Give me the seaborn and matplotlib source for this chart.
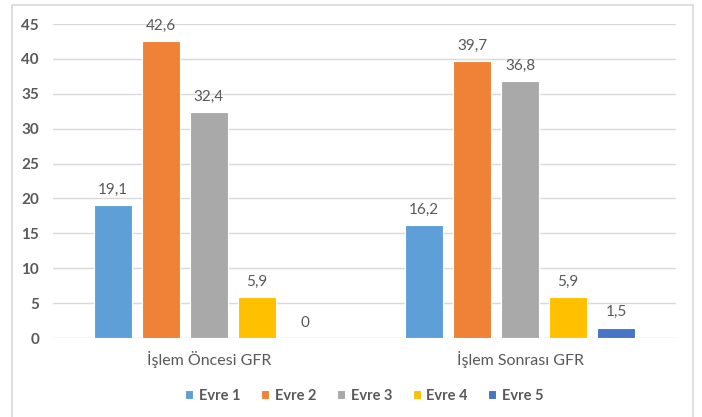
import pandas as pd
import seaborn as sns
import matplotlib.pyplot as plt
from matplotlib.patches import Rectangle

sns.set_theme(style='white')
plt.rcParams['font.family'] = ['Lato', 'DejaVu Sans']

groups = ['İşlem Öncesi GFR', 'İşlem Sonrası GFR']
stages = ['Evre 1', 'Evre 2', 'Evre 3', 'Evre 4', 'Evre 5']
before = [19.1, 42.6, 32.4, 5.9, 0]
after = [16.2, 39.7, 36.8, 5.9, 1.5]
colors = ['#5E9FD8', '#EF8236', '#A9A9A9', '#FFC000', '#4674C6']

df = pd.DataFrame({
    'Grup': [groups[0]] * 5 + [groups[1]] * 5,
    'Evre': stages * 2,
    'Deger': before + after,
})

fig = plt.figure(figsize=(7.02, 4.17), dpi=100)
ax = fig.add_axes([53 / 702, 1 - 338 / 417, 623 / 702, 314 / 417])

sns.barplot(data=df, x='Grup', y='Deger', hue='Evre', order=groups, hue_order=stages,
            palette=colors, width=0.77, gap=0.2, edgecolor='white', linewidth=0.8,
            saturation=1, ax=ax, legend=True)

ax.set_ylim(0, 45)
ax.set_xlim(-0.5, 1.5)
ax.set_yticks(range(0, 50, 5))
ax.yaxis.grid(True, color='#D9D9D9', linewidth=1)
ax.set_axisbelow(True)
for s in ax.spines.values():
    s.set_visible(False)
ax.set_xlabel('')
ax.set_ylabel('')
ax.tick_params(axis='y', length=0, pad=10, labelsize=11, labelcolor='#595959')
ax.tick_params(axis='x', length=0, pad=9, labelsize=11.5, labelcolor='#595959')
for t in ax.get_yticklabels():
    t.set_fontweight('bold')

for cont in ax.containers:
    ax.bar_label(cont, labels=[('%g' % v).replace('.', ',') for v in cont.datavalues],
                 padding=6, fontsize=11, color='#595959')

leg = ax.legend(loc='upper center', bbox_to_anchor=(0.5, -0.12), ncol=5, frameon=False,
                handlelength=0.55, handleheight=0.55, handletextpad=0.4, columnspacing=1.4,
                fontsize=10.5)
for t in leg.get_texts():
    t.set_color('#595959')
    t.set_fontweight('bold')

fig.patches.append(Rectangle((12 / 702, -0.05), 681 / 702, 1.05 - 5 / 417,
                             transform=fig.transFigure, fill=False,
                             edgecolor='#D9D9D9', linewidth=1.2))

plt.savefig('out.png', dpi=100)
